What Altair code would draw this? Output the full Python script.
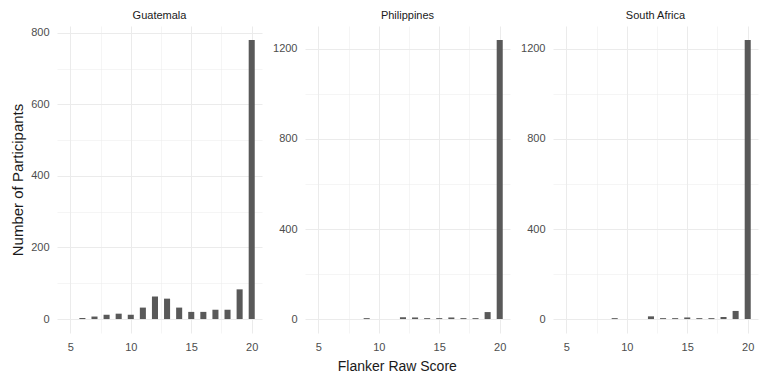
import altair as alt
import pandas as pd

# Flanker raw score distributions by site
countries = ["Guatemala", "Philippines", "South Africa"]

scores_guatemala = [6, 7, 8, 9, 10, 11, 12, 13, 14, 15, 16, 17, 18, 19, 20]
counts_guatemala = [3, 7, 12, 15, 12, 32, 63, 57, 32, 20, 20, 26, 26, 83, 780]

scores_philippines = [9, 12, 13, 14, 15, 16, 17, 18, 19, 20]
counts_philippines = [4, 8, 7, 4, 4, 7, 4, 4, 31, 1240]

scores_south_africa = [9, 12, 13, 14, 15, 16, 17, 18, 19, 20]
counts_south_africa = [4, 12, 4, 4, 7, 4, 4, 9, 36, 1240]

x_values = [5, 7.5, 10, 12.5, 15, 17.5, 20]
x_domain = [3.9, 20.85]

FONT = "Liberation Sans"
BAR = "#595959"
GRID = "#ebebeb"


def panel(name, scores, counts, major, y_title):
    df = pd.DataFrame({"score": scores, "count": counts})
    top = max(counts)
    y_lo, y_hi = -0.05 * top, 1.05 * top
    y_values = list(range(0, int(y_hi) + 1, major // 2))
    y_grid_w = {"condition": {"test": f"datum.value % {major} == 0", "value": 1}, "value": 0.5}
    x_grid_w = {"condition": {"test": "datum.value % 5 == 0", "value": 1}, "value": 0.5}
    return (
        alt.Chart(df)
        .transform_calculate(lo="datum.score - 0.25", hi="datum.score + 0.25")
        .mark_bar(color=BAR)
        .encode(
            x=alt.X(
                "lo:Q",
                scale=alt.Scale(domain=x_domain, nice=False, zero=False),
                axis=alt.Axis(
                    values=x_values,
                    format="d",
                    labelExpr="datum.value % 5 == 0 ? datum.label : ''",
                    title=None,
                    gridWidth=x_grid_w,
                ),
            ),
            x2="hi:Q",
            y=alt.Y(
                "count:Q",
                scale=alt.Scale(domain=[y_lo, y_hi], nice=False, zero=False),
                axis=alt.Axis(
                    values=y_values,
                    format="d",
                    labelExpr=f"datum.value % {major} == 0 ? datum.label : ''",
                    title=y_title,
                    titleFontSize=15,
                    gridWidth=y_grid_w,
                ),
            ),
            y2=alt.datum(0),
        )
        .properties(
            width=205,
            height=307,
            title=alt.TitleParams(
                name, fontSize=11, fontWeight="normal", font=FONT,
                color="#1a1a1a", offset=5, anchor="middle",
            ),
        )
    )


chart = (
    alt.hconcat(
        panel(countries[0], scores_guatemala, counts_guatemala, 200, "Number of Participants"),
        panel(countries[1], scores_philippines, counts_philippines, 400, None),
        panel(countries[2], scores_south_africa, counts_south_africa, 400, None),
        spacing=10,
    )
    .properties(
        title=alt.TitleParams(
            "Flanker Raw Score", orient="bottom", anchor="middle", fontSize=14,
            fontWeight="normal", font=FONT, color="#1a1a1a", offset=8, dx=13,
        ),
        padding={"left": 10, "top": 10, "right": 4, "bottom": 0},
    )
    .configure_view(stroke=None)
    .configure_axis(
        grid=True,
        gridColor=GRID,
        ticks=False,
        domain=False,
        labelFont=FONT,
        labelFontSize=11,
        labelColor="#4d4d4d",
        labelPadding=8,
        titleFont=FONT,
        titleFontSize=14,
        titleFontWeight="normal",
        titleColor="#1a1a1a",
        titlePadding=5,
    )
)

chart.save("out.html", embed_options={"renderer": "svg", "actions": False})
